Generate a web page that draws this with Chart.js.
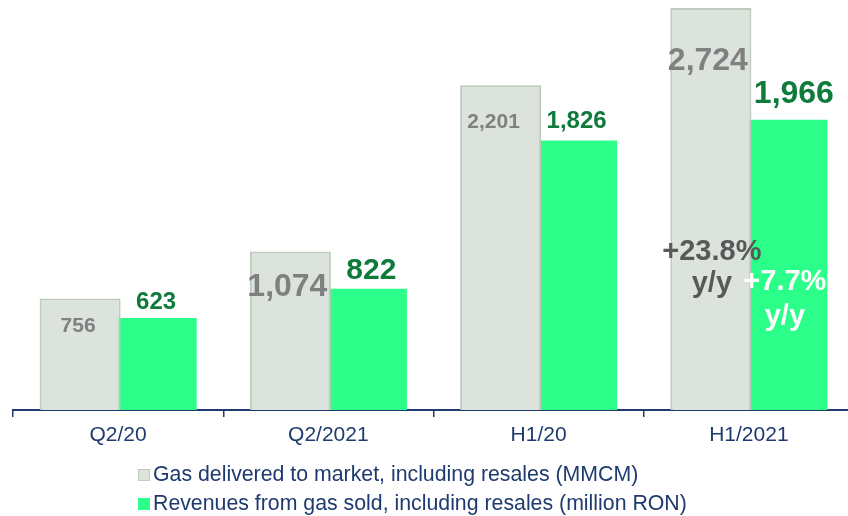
<!DOCTYPE html>
<html>
<head>
<meta charset="utf-8">
<script src="https://cdn.jsdelivr.net/npm/chart.js@4.4.1/dist/chart.umd.min.js"></script>
<style>
  body { margin: 0; background: #fff; overflow: hidden; }
  #wrap { position: relative; width: 848px; height: 516px; overflow: hidden; }
  canvas { position: absolute; left: 0; top: 0; }
  .leg { position: absolute; left: 138px; height: 29px; line-height: 29px; white-space: nowrap;
         font-family: "Liberation Sans", Arial, sans-serif; font-size: 21.3px; color: #1F3A6E; }
  .leg i { position: absolute; left: 0; top: 9px; width: 12px; height: 12px; box-sizing: border-box; }
  .leg span { position: absolute; left: 15px; top: 0; }
</style>
</head>
<body>
<div id="wrap">
  <canvas id="chart" width="856" height="516"></canvas>
  <div class="leg" style="top:460px"><i style="background:#DCE3DD;border:1px solid #BECABC"></i><span>Gas delivered to market, including resales (MMCM)</span></div>
  <div class="leg" style="top:489px"><i style="background:#2CFF89"></i><span>Revenues from gas sold, including resales (million RON)</span></div>
</div>
<script>
const categories = ["Q2/20", "Q2/2021", "H1/20", "H1/2021"];
const gasDelivered = [756, 1074, 2201, 2724];
const gasRevenues = [623, 822, 1826, 1966];
const gasLabels = ["756", "1,074", "2,201", "2,724"];
const revenueLabels = ["623", "822", "1,826", "1,966"];
const gasGrowth = ["+23.8%", "y/y"];
const revenueGrowth = ["+7.7%", "y/y"];

const FONT = "'Liberation Sans', Arial, sans-serif";
const NAVY = "#1F3A6E";

// per-label look: [font size, dx from bar centre, baseline offset from bar top]
const gasLabelStyle = [[21, -2, 34], [32, -3, 45], [21, -7, 43], [32, -3, 62]];
const revenueLabelStyle = [[24, 0, -9], [30, 5, -10], [24, 0, -13], [32, 7, -17]];

const valueLabels = {
  id: "valueLabels",
  afterDatasetsDraw(chart) {
    const ctx = chart.ctx;
    const gasBars = chart.getDatasetMeta(0).data;
    const revBars = chart.getDatasetMeta(1).data;
    ctx.save();
    ctx.textAlign = "center";
    ctx.textBaseline = "alphabetic";
    gasBars.forEach((bar, i) => {
      const [size, dx, dy] = gasLabelStyle[i];
      ctx.font = `bold ${size}px ${FONT}`;
      ctx.fillStyle = "#808080";
      ctx.fillText(gasLabels[i], bar.x + dx, bar.y + dy);
    });
    revBars.forEach((bar, i) => {
      const [size, dx, dy] = revenueLabelStyle[i];
      ctx.font = `bold ${size}px ${FONT}`;
      ctx.fillStyle = "#0E7B3B";
      ctx.fillText(revenueLabels[i], bar.x + dx, bar.y + dy);
    });

    // growth notes on the last group
    const g = gasBars[3];
    const r = revBars[3];
    ctx.font = `bold 29px ${FONT}`;
    ctx.fillStyle = "#595959";
    ctx.fillText(gasGrowth[0], g.x + 1, g.y + 252);
    ctx.fillText(gasGrowth[1], g.x + 1, g.y + 284);
    ctx.fillStyle = "#FFFFFF";
    ctx.fillText(revenueGrowth[0], r.x - 2, r.y + 170);
    ctx.fillText(revenueGrowth[1], r.x - 2, r.y + 205);
    ctx.restore();
  },
};

new Chart(document.getElementById("chart"), {
  type: "bar",
  data: {
    labels: categories,
    datasets: [
      {
        label: "Gas delivered to market, including resales (MMCM)",
        data: gasDelivered,
        backgroundColor: "#DCE3DD",
        borderColor: "#BECABC",
        borderWidth: 2,
        categoryPercentage: 0.723,
        barPercentage: 1.066,
      },
      {
        label: "Revenues from gas sold, including resales (million RON)",
        data: gasRevenues,
        backgroundColor: "#2CFF89",
        borderWidth: 0,
        categoryPercentage: 0.723,
        barPercentage: 1.066,
      },
    ],
  },
  options: {
    responsive: false,
    animation: false,
    devicePixelRatio: 1,
    layout: { padding: { left: 13, right: 2, top: 0, bottom: 0 } },
    plugins: { legend: { display: false }, tooltip: { enabled: false } },
    scales: {
      x: {
        afterFit: (scale) => { scale.height = 106; },
        grid: { offset: true, drawOnChartArea: false, drawTicks: true, tickLength: 7, color: NAVY, lineWidth: 1.5 },
        border: { display: true, color: NAVY, width: 2 },
        ticks: { color: NAVY, padding: 6, font: { family: FONT, size: 21 } },
      },
      y: { display: false, min: 0, max: 2778 },
    },
  },
  plugins: [valueLabels],
});
</script>
</body>
</html>
